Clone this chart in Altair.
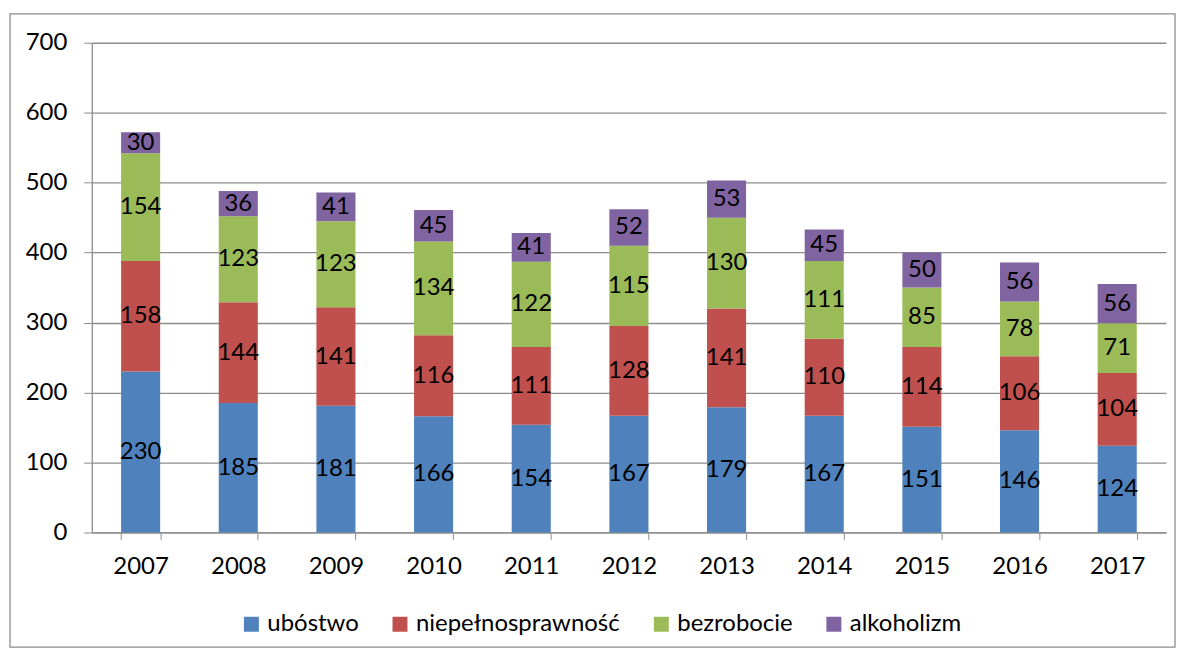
import altair as alt
import pandas as pd

years = ["2007", "2008", "2009", "2010", "2011", "2012", "2013", "2014", "2015", "2016", "2017"]
series = ["ubóstwo", "niepełnosprawność", "bezrobocie", "alkoholizm"]
ubostwo = [230, 185, 181, 166, 154, 167, 179, 167, 151, 146, 124]
niepelno = [158, 144, 141, 116, 111, 128, 141, 110, 114, 106, 104]
bezrobocie = [154, 123, 123, 134, 122, 115, 130, 111, 85, 78, 71]
alkoholizm = [30, 36, 41, 45, 41, 52, 53, 45, 50, 56, 56]
colors = ["#4F81BD", "#C0504D", "#9BBB59", "#8064A2"]

rows = []
for si, (name, vals) in enumerate(zip(series, [ubostwo, niepelno, bezrobocie, alkoholizm])):
    for y, v in zip(years, vals):
        rows.append({"year": y, "series": name, "value": v, "order": si})
df = pd.DataFrame(rows)

FONT = "Lato"
FS = 24
GRID = "#8c8c8c"
W, H = 1077, 491

base = alt.Chart(df).transform_stack(
    stack="value", groupby=["year"], sort=[alt.SortField("order", order="ascending")], as_=["y0", "y1"]
).transform_calculate(mid="(datum.y0 + datum.y1) / 2")

xenc = alt.X(
    "year:N",
    sort=years,
    scale=alt.Scale(paddingInner=0.6, paddingOuter=0.3),
    axis=alt.Axis(
        title=None, labelAngle=0, tickBand="extent", tickSize=7, tickColor=GRID,
        domainColor=GRID, domainWidth=1.3, labelFont=FONT, labelFontSize=FS,
        labelColor="black", labelPadding=27, labelBaseline="middle", grid=False,
    ),
)

bars = base.mark_bar().encode(
    x=xenc,
    y=alt.Y(
        "y0:Q",
        scale=alt.Scale(domain=[0, 700], nice=False),
        axis=alt.Axis(
            title=None, values=list(range(0, 701, 100)), tickSize=8, tickColor=GRID,
            domainColor=GRID, domainWidth=1.3, gridColor=GRID, gridWidth=1.3,
            labelFont=FONT, labelFontSize=FS, labelColor="black", labelPadding=17,
        ),
    ),
    y2="y1:Q",
    color=alt.Color(
        "series:N",
        sort=series,
        scale=alt.Scale(domain=series, range=colors),
        legend=alt.Legend(
            title=None, orient="none", legendX=148, legendY=571, direction="horizontal",
            columns=4, gridAlign="each", columnPadding=29, symbolType="square",
            symbolSize=225, symbolStrokeWidth=0, labelFont=FONT, labelFontSize=FS,
            labelColor="black", labelOffset=4, labelLimit=500,
        ),
    ),
    order=alt.Order("order:Q"),
)

labels = base.mark_text(font=FONT, fontSize=FS, color="black", baseline="middle").encode(
    x=alt.X("year:N", sort=years),
    y=alt.Y("mid:Q"),
    text=alt.Text("value:Q"),
)

border = alt.Chart(alt.Data(values=[{"a": 1}])).mark_rect(
    filled=False, stroke=GRID, strokeWidth=1.3
).encode(
    x=alt.value(-82), x2=alt.value(1086), y=alt.value(-29), y2=alt.value(606)
)

chart = alt.layer(border, bars, labels).properties(
    width=W, height=H,
    autosize=alt.AutoSizeParams(type="none"),
    padding={"left": 84, "top": 34, "right": 10, "bottom": 116},
).configure_view(stroke=None).configure_axis(gridColor=GRID)

chart.save("out.html", embed_options={"renderer": "svg", "actions": False})
